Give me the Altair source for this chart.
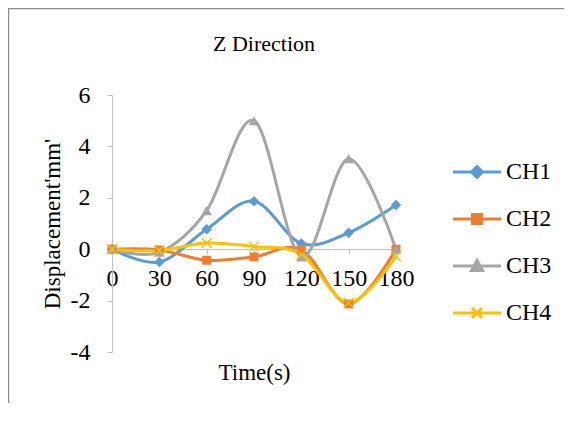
import altair as alt
import pandas as pd

times = [0, 30, 60, 90, 120, 150, 180]
series_names = ["CH1", "CH2", "CH3", "CH4"]
ch1 = [0, -0.5, 0.78, 1.87, 0.22, 0.64, 1.72]
ch2 = [0, -0.03, -0.43, -0.3, -0.02, -2.13, 0]
ch3 = [0, -0.12, 1.5, 5.0, -0.3, 3.52, 0]
ch4 = [0, -0.05, 0.24, 0.1, -0.2, -2.08, -0.28]
colors = ["#5B9BD5", "#ED7D31", "#A5A5A5", "#FFC000"]
y_ticks = [-4, -2, 0, 2, 4, 6]

rows = []
for name, vals in zip(series_names, [ch1, ch2, ch3, ch4]):
    for t, v in zip(times, vals):
        rows.append({"time": t, "series": name, "value": v})
df = pd.DataFrame(rows)

FONT = "Liberation Serif"
XPATH = "M-1,-1L1,1M-1,1L1,-1"
marker_shapes = ["diamond", "square", "triangle-up", XPATH]
marker_sizes = [110, 80, 110, 100]
legend_paths = [
    "M-4.8,0H4.8M0,-1.1L1.1,0L0,1.1L-1.1,0Z",
    "M-4.8,0H4.8M-0.9,-0.9H0.9V0.9H-0.9Z",
    "M-4.8,0H4.8M0,-1.1L1.1,0.9H-1.1Z",
    "M-4.8,0H4.8M-1,-1L1,1M-1,1L1,-1",
]

xscale = alt.Scale(domain=[0, 180], nice=False, zero=False)
yscale = alt.Scale(domain=[-4, 6], nice=False)

x_axis = alt.Axis(
    values=times,
    title="Time(s)",
    offset=-103,
    grid=False,
    domainColor="#BFBFBF",
    tickColor="#BFBFBF",
    tickSize=5,
    labelFont=FONT,
    labelFontSize=24,
    labelColor="#000000",
    labelPadding=12,
    labelFlush=False,
    labelOverlap=False,
    labelExpr="'' + datum.value",
    titleFont=FONT,
    titleFontSize=23,
    titleFontWeight="normal",
    titleColor="#000000",
    titleBaseline="middle",
    titleY=123,
    titleX=142,
)
y_axis = alt.Axis(
    values=y_ticks,
    title="Displacement'mm'",
    grid=False,
    domainColor="#BFBFBF",
    tickColor="#BFBFBF",
    tickSize=5,
    labelFont=FONT,
    labelFontSize=24,
    labelColor="#000000",
    labelPadding=17,
    labelExpr="'' + datum.value",
    titleFont=FONT,
    titleFontSize=23,
    titleFontWeight="normal",
    titleColor="#000000",
    titlePadding=6,
)

line_layers = []
point_layers = []
for i, (name, col, shp, sz) in enumerate(zip(series_names, colors, marker_shapes, marker_sizes)):
    if i == 0:
        enc_x = alt.X("time:Q", scale=xscale, axis=x_axis)
        enc_y = alt.Y("value:Q", scale=yscale, axis=y_axis)
    else:
        enc_x = alt.X("time:Q", scale=xscale)
        enc_y = alt.Y("value:Q", scale=yscale)
    line_layers.append(
        alt.Chart(df).mark_line(interpolate="cardinal", strokeWidth=3, color=col)
        .transform_filter(alt.datum.series == name)
        .encode(x=enc_x, y=enc_y)
    )
    if shp == XPATH:
        m = alt.Chart(df).mark_point(shape=shp, size=sz, filled=False,
                                     stroke=col, strokeWidth=1.3, opacity=1)
    else:
        m = alt.Chart(df).mark_point(shape=shp, size=sz, filled=True,
                                     fill=col, opacity=1)
    point_layers.append(
        m.transform_filter(alt.datum.series == name).encode(
            x=alt.X("time:Q", scale=xscale),
            y=alt.Y("value:Q", scale=yscale),
        )
    )

legend_layer = alt.Chart(df).mark_point(filled=True, strokeWidth=3, opacity=0).encode(
    x=alt.X("time:Q", scale=xscale),
    y=alt.Y("value:Q", scale=yscale),
    shape=alt.Shape(
        "series:N",
        scale=alt.Scale(domain=series_names, range=legend_paths),
        legend=alt.Legend(
            title=None,
            orient="none",
            legendX=353,
            legendY=65,
            padding=0,
            symbolSize=100,
            symbolStrokeWidth=3,
            symbolOpacity=1,
            labelFont=FONT,
            labelFontSize=24,
            labelColor="#000000",
            labelOffset=17,
            rowPadding=23,
        ),
    ),
    fill=alt.Fill("series:N", scale=alt.Scale(domain=series_names, range=colors)),
    stroke=alt.Stroke("series:N", scale=alt.Scale(domain=series_names, range=colors)),
)

frame = alt.Chart(alt.Data(values=[{"a": 1}])).mark_rect(
    fill="transparent", stroke="#8C8C8C", strokeWidth=1.5
).encode(
    x=alt.value(-103.5), x2=alt.value(700),
    y=alt.value(-86.5), y2=alt.value(500),
)

chart = alt.layer(frame, *line_layers, *point_layers, legend_layer).properties(
    width=284,
    height=257,
    background="#FFFFFF",
    padding={"left": 104, "top": 87, "right": 168, "bottom": 51},
    autosize=alt.AutoSizeParams(type="none"),
    title=alt.Title(
        "Z Direction",
        font=FONT,
        fontSize=22,
        fontWeight="normal",
        color="#000000",
        anchor="middle",
        frame="group",
        dx=10,
        offset=-48,
    ),
).configure_view(stroke=None).configure_title(font=FONT, fontSize=22, fontWeight="normal", color="#000000")

chart.save("out.html", embed_options={"renderer": "svg", "actions": False})
